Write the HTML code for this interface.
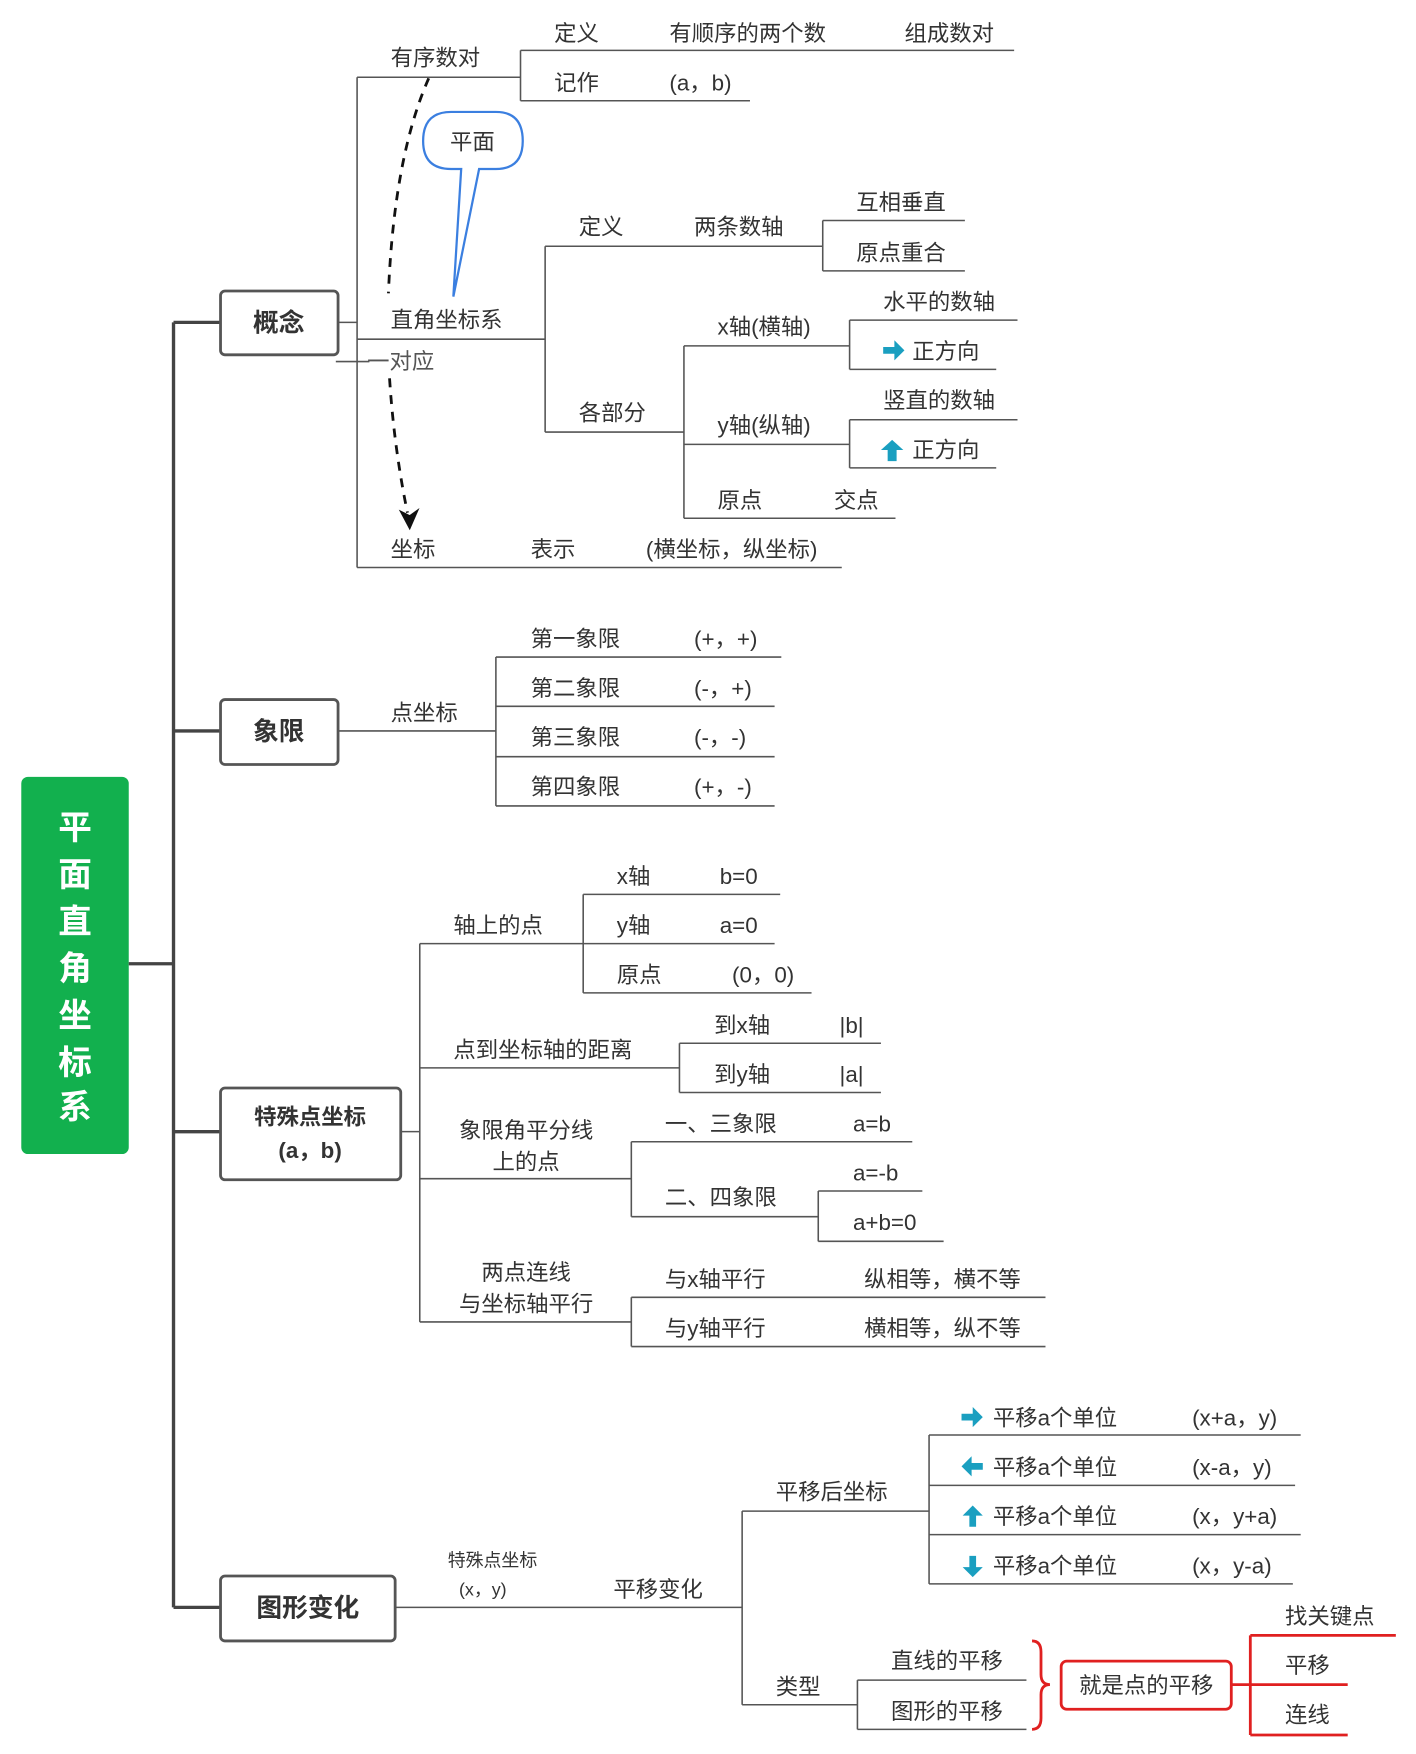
<!DOCTYPE html>
<html><head><meta charset="utf-8"><style>
html,body{margin:0;padding:0;background:#fff}
svg{display:block}
text{font-family:"Liberation Sans","Noto Sans CJK SC",sans-serif;fill:#333;font-size:20px;dominant-baseline:central}
.l{stroke:#555;stroke-width:1.4;fill:none}
.b{fill:#fff;stroke:#555;stroke-width:2.5}
.bt{font-weight:bold;font-size:23px;fill:#333}
.r{stroke:#e02020;stroke-width:2.5;fill:none}
.ar{fill:#1a9fc0}
</style></head><body>
<svg width="1416" height="1754" viewBox="0 0 1265 1567" xmlns="http://www.w3.org/2000/svg">
<!-- root -->
<rect x="19" y="694" width="96" height="337" rx="6" fill="#12b04e"/>
<g style="font-size:30px;font-weight:bold" text-anchor="middle">
<text x="67" y="740" style="fill:#fff;font-size:30px">平</text>
<text x="67" y="782" style="fill:#fff;font-size:30px">面</text>
<text x="67" y="824" style="fill:#fff;font-size:30px">直</text>
<text x="67" y="866" style="fill:#fff;font-size:30px">角</text>
<text x="67" y="908" style="fill:#fff;font-size:30px">坐</text>
<text x="67" y="950" style="fill:#fff;font-size:30px">标</text>
<text x="67" y="990" style="fill:#fff;font-size:30px">系</text>
</g>
<!-- trunk -->
<g stroke="#444" stroke-width="3" fill="none">
<path d="M115 861H155M155 288V1436M155 288H197M155 653H197M155 1011H197M155 1436H197"/>
</g>
<!-- main boxes -->
<rect class="b" x="197" y="260" width="105" height="57" rx="4"/>
<text class="bt" x="249" y="289" text-anchor="middle">概念</text>
<rect class="b" x="197" y="625" width="105" height="58" rx="4"/>
<text class="bt" x="249" y="654" text-anchor="middle">象限</text>
<rect class="b" x="197" y="972" width="161" height="82" rx="4"/>
<text class="bt" x="277" y="998" text-anchor="middle" style="font-size:20px">特殊点坐标</text>
<text class="bt" x="277" y="1028" text-anchor="middle" style="font-size:20px">(a，b)</text>
<rect class="b" x="197" y="1408" width="156" height="58" rx="4"/>
<text class="bt" x="275" y="1437" text-anchor="middle">图形变化</text>

<!-- 概念 subtree -->
<path class="l" d="M302 288H319M319 69V507M319 69H465M319 303H487M319 507H752M300 323H330"/>
<text x="349" y="52">有序数对</text>
<text x="349" y="286">直角坐标系</text>
<text x="328" y="323" style="fill:#555">一对应</text>
<path class="l" d="M465 45V90M465 45H906M465 90H670"/>
<text x="495" y="30">定义</text><text x="598" y="30">有顺序的两个数</text><text x="808" y="30">组成数对</text>
<text x="495" y="74">记作</text><text x="598" y="74">(a，b)</text>
<!-- callout -->
<path d="M403 151 Q378 151 378 126 Q378 100 403 100 H443 Q467 100 467 126 Q467 151 443 151 H428 L405 265 L412 151 Z" fill="#fff" stroke="#3b7fe0" stroke-width="2"/>
<text x="422" y="127" text-anchor="middle">平面</text>
<!-- dashed -->
<path d="M383 70 Q352 140 347 262" stroke="#111" stroke-width="2.5" stroke-dasharray="8 7" fill="none"/>
<path d="M348 338 Q352 400 364 458" stroke="#111" stroke-width="2.5" stroke-dasharray="8 7" fill="none"/>
<path d="M358 457 L366 472 L373 456 L366 461 Z" fill="#111" stroke="#111" stroke-width="1.5"/>
<!-- 直角坐标系 -->
<path class="l" d="M487 220V386M487 220H735M735 197V242M735 197H862M735 242H862M487 386H611M611 309V463M611 309H759M611 397H759M611 463H800M759 286V330M759 286H909M759 330H890M759 375V418M759 375H909M759 418H890"/>
<text x="517" y="203">定义</text><text x="620" y="203">两条数轴</text>
<text x="765" y="181">互相垂直</text><text x="765" y="226">原点重合</text>
<text x="517" y="369">各部分</text>
<text x="641" y="292">x轴(横轴)</text><text x="641" y="380">y轴(纵轴)</text>
<text x="641" y="447">原点</text><text x="745" y="447">交点</text>
<text x="789" y="270">水平的数轴</text><text x="789" y="358">竖直的数轴</text>
<path class="ar" d="M789 310h10v-6l9 9-9 9v-6h-10z"/><text x="815" y="314">正方向</text>
<path class="ar" d="M793 412v-10h-6l10-9 10 9h-6v10z"/><text x="815" y="402">正方向</text>
<text x="349" y="491">坐标</text><text x="474" y="491">表示</text><text x="577" y="491">(横坐标，纵坐标)</text>

<!-- 象限 -->
<path class="l" d="M302 653H443M443 587V720M443 587H698M443 631H692M443 676H692M443 720H692"/>
<text x="349" y="637">点坐标</text>
<text x="474" y="571">第一象限</text><text x="620" y="571">(+，+)</text>
<text x="474" y="615">第二象限</text><text x="620" y="615">(-，+)</text>
<text x="474" y="659">第三象限</text><text x="620" y="659">(-，-)</text>
<text x="474" y="703">第四象限</text><text x="620" y="703">(+，-)</text>

<!-- 特殊点 -->
<path class="l" d="M358 1011H375M375 843V1181M375 843H521M521 799V887M521 799H697M521 843H692M521 887H725M375 954H607M607 932V976M607 932H787M607 976H787M375 1053H564M564 1020V1087M564 1020H815M564 1087H731M731 1064V1109M731 1064H824M731 1109H843M375 1181H564M564 1159V1203M564 1159H934M564 1203H934"/>
<text x="405" y="827">轴上的点</text>
<text x="551" y="783">x轴</text><text x="643" y="783">b=0</text>
<text x="551" y="827">y轴</text><text x="643" y="827">a=0</text>
<text x="551" y="871">原点</text><text x="654" y="871">(0，0)</text>
<text x="405" y="938">点到坐标轴的距离</text>
<text x="638" y="916">到x轴</text><text x="750" y="916">|b|</text>
<text x="638" y="960">到y轴</text><text x="750" y="960">|a|</text>
<text x="470" y="1010" text-anchor="middle">象限角平分线</text>
<text x="470" y="1038" text-anchor="middle">上的点</text>
<text x="594" y="1004">一、三象限</text><text x="762" y="1004">a=b</text>
<text x="594" y="1070">二、四象限</text>
<text x="762" y="1048">a=-b</text><text x="762" y="1092">a+b=0</text>
<text x="470" y="1137" text-anchor="middle">两点连线</text>
<text x="470" y="1165" text-anchor="middle">与坐标轴平行</text>
<text x="594" y="1143">与x轴平行</text><text x="772" y="1143">纵相等，横不等</text>
<text x="594" y="1187">与y轴平行</text><text x="772" y="1187">横相等，纵不等</text>

<!-- 图形变化 -->
<path class="l" d="M353 1436H663M663 1350V1523M663 1350H830M830 1282V1415M830 1282H1162M830 1327H1157M830 1371H1162M830 1415H1155M663 1523H766M766 1501V1545M766 1501H917M766 1545H917"/>
<text x="400" y="1394" style="font-size:16px">特殊点坐标</text>
<text x="410" y="1420" style="font-size:16px">(x，y)</text>
<text x="548" y="1420">平移变化</text>
<text x="693" y="1333">平移后坐标</text>
<path class="ar" d="M859 1263h10v-6l9 9-9 9v-6h-10z"/><text x="887" y="1267">平移a个单位</text><text x="1065" y="1267">(x+a，y)</text>
<path class="ar" d="M878 1307h-10v-6l-9 9 9 9v-6h10z"/><text x="887" y="1311">平移a个单位</text><text x="1065" y="1311">(x-a，y)</text>
<path class="ar" d="M866 1364v-10h-6l9-9 9 9h-6v10z"/><text x="887" y="1355">平移a个单位</text><text x="1065" y="1355">(x，y+a)</text>
<path class="ar" d="M866 1390v10h-6l9 9 9-9h-6v-10z"/><text x="887" y="1399">平移a个单位</text><text x="1065" y="1399">(x，y-a)</text>
<text x="693" y="1507">类型</text>
<text x="796" y="1484">直线的平移</text><text x="796" y="1529">图形的平移</text>
<!-- red -->
<path class="r" d="M922 1466 Q930 1466 930 1476 V1496 Q930 1505 938 1505 Q930 1505 930 1514 V1535 Q930 1545 922 1545"/>
<rect class="r" x="948" y="1484" width="152" height="43" rx="5"/>
<text x="1024" y="1506" text-anchor="middle">就是点的平移</text>
<path class="r" d="M1100 1505H1204M1117 1461V1550M1117 1461H1247M1117 1550H1204"/>
<text x="1148" y="1444">找关键点</text><text x="1148" y="1488">平移</text><text x="1148" y="1532">连线</text>
</svg>
</body></html>
